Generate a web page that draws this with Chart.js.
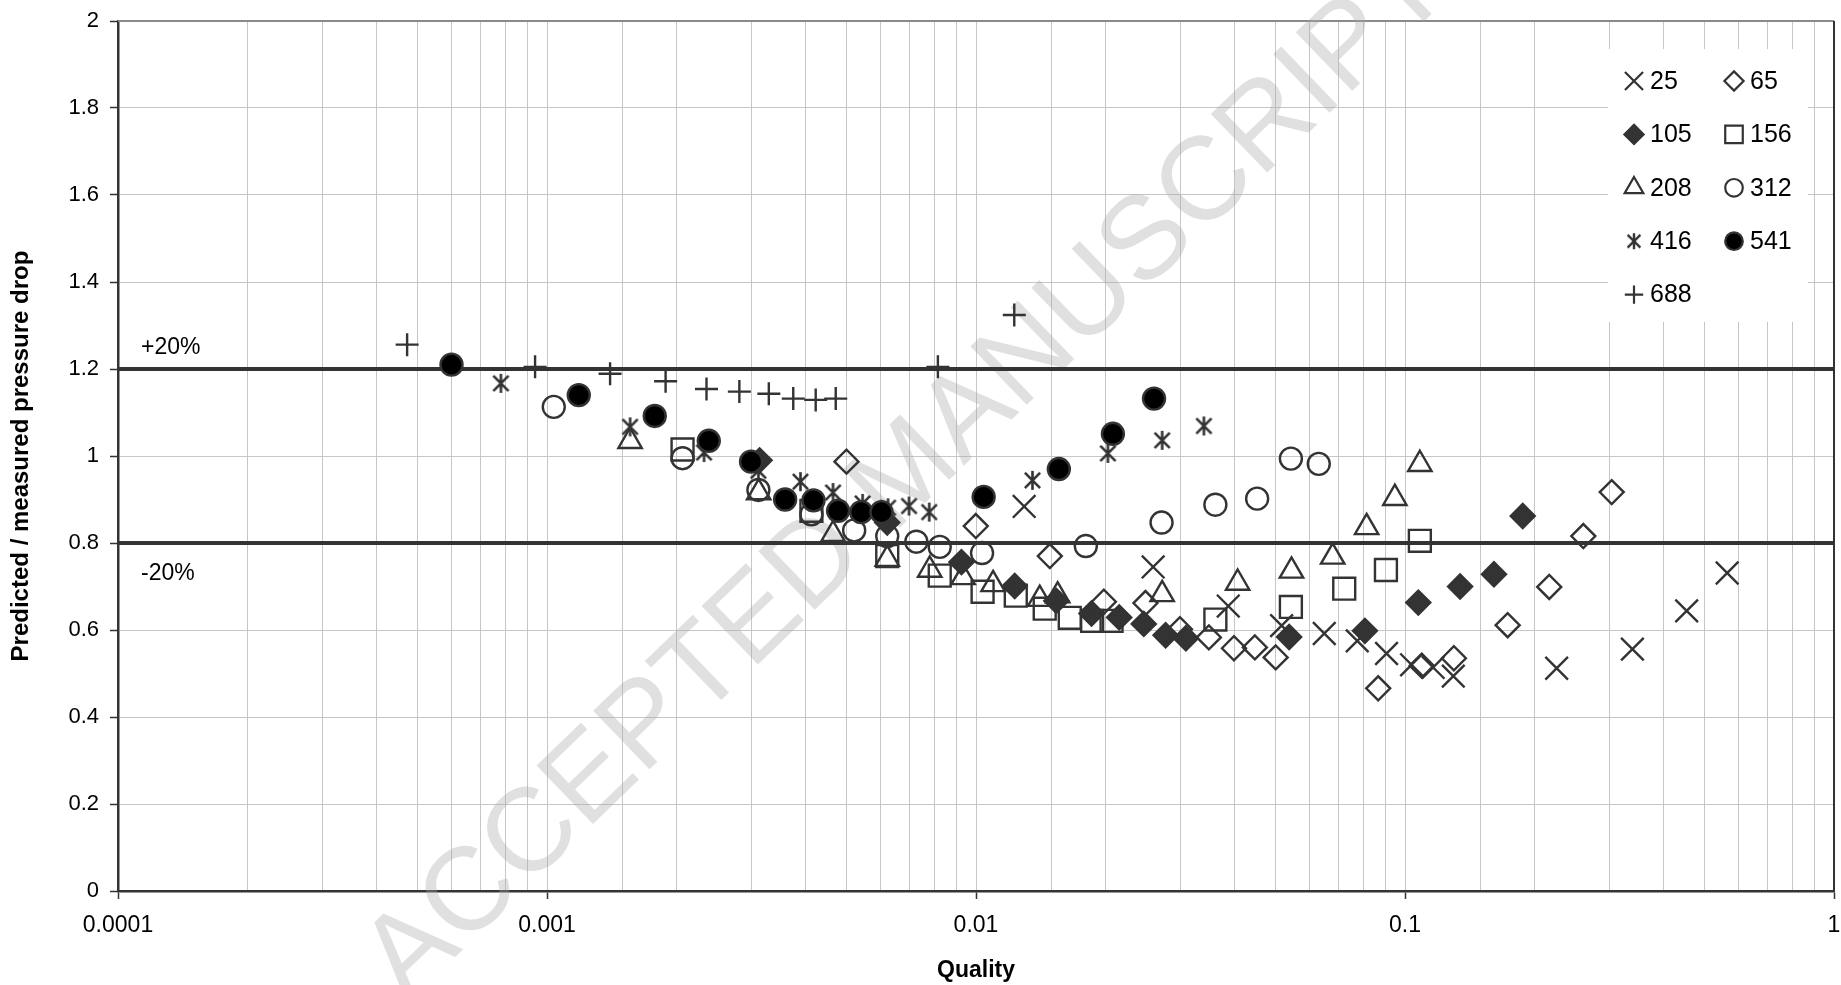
<!DOCTYPE html>
<html>
<head>
<meta charset="utf-8">
<title>Predicted / measured pressure drop vs quality</title>
<script src="https://cdn.jsdelivr.net/npm/chart.js@4.4.1/dist/chart.umd.min.js"></script>
<style>
    html, body { margin: 0; padding: 0; background: #fff; }
    #chart { display: block; }
</style>
</head>
<body>
<canvas id="chart" width="1841" height="985"></canvas>
<script>
// mass flux series (legend labels)
const seriesNames = ["25", "65", "105", "156", "208", "312", "416", "541", "688"];

const xTickLabels = ["0.0001", "0.001", "0.01", "0.1", "1"];
const yTickLabels = ["0", "0.2", "0.4", "0.6", "0.8", "1", "1.2", "1.4", "1.6", "1.8", "2"];

// +/-20% band
const bandX = [0.0001, 1];
const upperBand = [1.2, 1.2];
const lowerBand = [0.8, 0.8];

const quality25 = [0.01295, 0.02588, 0.03873, 0.05157, 0.06484, 0.07739, 0.09057, 0.1036, 0.1163, 0.1296, 0.2257, 0.3389, 0.4535, 0.5636];
const ratio25 = [0.884, 0.745, 0.655, 0.610, 0.592, 0.575, 0.546, 0.520, 0.514, 0.494, 0.512, 0.556, 0.644, 0.731];

const quality65 = [0.00499, 0.009988, 0.01486, 0.01986, 0.02483, 0.02988, 0.0349, 0.03993, 0.04467, 0.04995, 0.0866, 0.1094, 0.13, 0.1735, 0.2169, 0.2604, 0.3033];
const ratio65 = [0.987, 0.839, 0.770, 0.665, 0.662, 0.602, 0.583, 0.558, 0.560, 0.537, 0.466, 0.518, 0.535, 0.611, 0.699, 0.816, 0.917];

const quality105 = [0.00313, 0.00621, 0.00925, 0.01231, 0.01539, 0.01859, 0.02157, 0.02461, 0.02767, 0.03085, 0.0537, 0.08064, 0.1074, 0.1344, 0.1612, 0.1881];
const ratio105 = [0.990, 0.847, 0.756, 0.701, 0.667, 0.638, 0.629, 0.614, 0.588, 0.581, 0.584, 0.598, 0.663, 0.700, 0.728, 0.862];

const quality156 = [0.00207, 0.004134, 0.00621, 0.008231, 0.01036, 0.01238, 0.01446, 0.01654, 0.01865, 0.0207, 0.03614, 0.0542, 0.07217, 0.09027, 0.1083];
const ratio156 = [1.015, 0.874, 0.770, 0.725, 0.688, 0.679, 0.649, 0.628, 0.621, 0.621, 0.624, 0.653, 0.695, 0.738, 0.805];

const quality208 = [0.001562, 0.003115, 0.004643, 0.00621, 0.0078, 0.00933, 0.01096, 0.01408, 0.0155, 0.02716, 0.04073, 0.05438, 0.06783, 0.08139, 0.0947, 0.1083];
const ratio208 = [1.034, 0.916, 0.820, 0.763, 0.738, 0.721, 0.705, 0.671, 0.679, 0.682, 0.708, 0.736, 0.768, 0.836, 0.903, 0.981];

const quality312 = [0.001037, 0.00207, 0.00311, 0.004134, 0.0052, 0.00621, 0.00726, 0.008231, 0.01033, 0.01803, 0.02707, 0.03614, 0.04522, 0.0542, 0.06295];
const ratio312 = [1.113, 0.995, 0.922, 0.866, 0.829, 0.816, 0.803, 0.791, 0.777, 0.793, 0.847, 0.888, 0.902, 0.994, 0.982];

const quality416 = [0.0007808, 0.001562, 0.002323, 0.00311, 0.0038975, 0.004643, 0.00544, 0.006237, 0.00698, 0.00778, 0.01354, 0.0203, 0.02716, 0.03398];
const ratio416 = [1.167, 1.067, 1.008, 0.966, 0.941, 0.916, 0.891, 0.881, 0.885, 0.871, 0.944, 1.006, 1.036, 1.069];

const quality541 = [0.000599, 0.001186, 0.001783, 0.002383, 0.00299, 0.00359, 0.00418, 0.00477, 0.0054, 0.00602, 0.01042, 0.0156, 0.02085, 0.026];
const ratio541 = [1.210, 1.140, 1.092, 1.035, 0.987, 0.900, 0.898, 0.874, 0.871, 0.871, 0.906, 0.970, 1.051, 1.132];

const quality688 = [0.000472, 0.000938, 0.001403, 0.00189, 0.002354, 0.002808, 0.003289, 0.00375, 0.00423, 0.00471, 0.00815, 0.01228];
const ratio688 = [1.256, 1.205, 1.189, 1.172, 1.154, 1.148, 1.143, 1.132, 1.129, 1.132, 1.205, 1.324];

const INK = "#333333";
const FONT = 'Arial, "Liberation Sans", sans-serif';
const NONE = "rgba(0,0,0,0)";

Chart.defaults.font.family = FONT;
Chart.defaults.color = "#000";

function toPoints(xs, ys) {
    return xs.map((x, i) => ({x: x, y: ys[i]}));
}

function isDecade(v) {
    const e = Math.log10(v);
    return Math.abs(e - Math.round(e)) < 1e-6;
}

// excel style asterisk: X with a vertical bar
function makeAsterisk(size, lw) {
    const c = document.createElement("canvas");
    c.width = size;
    c.height = size;
    const g = c.getContext("2d");
    const m = size / 2;
    const a = size / 2 - 1;
    const d = a * 0.8;
    g.strokeStyle = INK;
    g.lineWidth = lw;
    g.beginPath();
    g.moveTo(m, m - a); g.lineTo(m, m + a);
    g.moveTo(m - d, m - d); g.lineTo(m + d, m + d);
    g.moveTo(m + d, m - d); g.lineTo(m - d, m + d);
    g.stroke();
    return c;
}

const asteriskBig = makeAsterisk(21, 2.6);
const asteriskSmall = makeAsterisk(18, 2.4);

// marker look per series, same order as seriesNames
const markers = [
    {style: "crossRot", radius: 16, fill: NONE},
    {style: "rectRot", radius: 12, fill: NONE},
    {style: "rectRot", radius: 12, fill: INK},
    {style: "rect", radius: 15.5, fill: NONE},
    {style: "triangle", radius: 13.5, fill: NONE},
    {style: "circle", radius: 11, fill: NONE},
    {style: asteriskBig, radius: 10, fill: NONE, legendStyle: asteriskSmall},
    {style: "circle", radius: 11, fill: "#000"},
    {style: "cross", radius: 11.5, fill: NONE}
];

const seriesData = [
    toPoints(quality25, ratio25),
    toPoints(quality65, ratio65),
    toPoints(quality105, ratio105),
    toPoints(quality156, ratio156),
    toPoints(quality208, ratio208),
    toPoints(quality312, ratio312),
    toPoints(quality416, ratio416),
    toPoints(quality541, ratio541),
    toPoints(quality688, ratio688)
];

const datasets = seriesNames.map((name, i) => ({
    label: name,
    data: seriesData[i],
    pointStyle: markers[i].style,
    pointRadius: markers[i].radius,
    pointHoverRadius: markers[i].radius,
    pointBackgroundColor: markers[i].fill,
    pointBorderColor: INK,
    pointBorderWidth: 2.4,
    order: seriesNames.length - i
}));

datasets.push({
    type: "line",
    label: "+20%",
    data: toPoints(bandX, upperBand),
    borderColor: INK,
    borderWidth: 4,
    pointRadius: 0,
    showLine: true,
    order: 50
});
datasets.push({
    type: "line",
    label: "-20%",
    data: toPoints(bandX, lowerBand),
    borderColor: INK,
    borderWidth: 4,
    pointRadius: 0,
    showLine: true,
    order: 50
});

function drawLegendMarker(ctx, m, x, y, r) {
    ctx.save();
    ctx.strokeStyle = INK;
    ctx.fillStyle = m.fill;
    ctx.lineWidth = 2.2;
    ctx.beginPath();
    const d = r * Math.SQRT1_2;
    if (typeof m.style !== "string") {
        const img = m.legendStyle || m.style;
        ctx.drawImage(img, x - img.width / 2, y - img.height / 2);
        ctx.restore();
        return;
    }
    if (m.style === "crossRot") {
        ctx.moveTo(x - d, y - d); ctx.lineTo(x + d, y + d);
        ctx.moveTo(x + d, y - d); ctx.lineTo(x - d, y + d);
    } else if (m.style === "cross") {
        ctx.moveTo(x - r, y); ctx.lineTo(x + r, y);
        ctx.moveTo(x, y - r); ctx.lineTo(x, y + r);
    } else if (m.style === "rectRot") {
        ctx.moveTo(x, y - r); ctx.lineTo(x + r, y); ctx.lineTo(x, y + r); ctx.lineTo(x - r, y); ctx.closePath();
    } else if (m.style === "rect") {
        ctx.rect(x - d, y - d, 2 * d, 2 * d);
    } else if (m.style === "triangle") {
        ctx.moveTo(x, y - r);
        ctx.lineTo(x + r * 0.866, y + r / 2);
        ctx.lineTo(x - r * 0.866, y + r / 2);
        ctx.closePath();
    } else if (m.style === "circle") {
        ctx.arc(x, y, r, 0, Math.PI * 2);
    }
    ctx.fill();
    ctx.stroke();
    ctx.restore();
}

const decorations = {
    id: "decorations",
    beforeDatasetsDraw(chart) {
        const ctx = chart.ctx;
        const area = chart.chartArea;
        ctx.save();
        // top and right frame
        ctx.strokeStyle = "#8a8a8a";
        ctx.lineWidth = 2;
        ctx.beginPath();
        ctx.moveTo(area.left, area.top);
        ctx.lineTo(area.right, area.top);
        ctx.stroke();
        ctx.strokeStyle = INK;
        ctx.beginPath();
        ctx.moveTo(area.right, area.top);
        ctx.lineTo(area.right, area.bottom);
        ctx.stroke();

        // watermark stamp
        ctx.translate(chart.width * 0.493, chart.height * 0.482);
        ctx.rotate(-44 * Math.PI / 180);
        ctx.font = "118px " + FONT;
        ctx.fillStyle = "rgba(170,170,170,0.36)";
        ctx.textAlign = "center";
        ctx.textBaseline = "middle";
        ctx.fillText("ACCEPTED MANUSCRIPT", 0, 0);
        ctx.restore();
    },
    afterDatasetsDraw(chart) {
        const ctx = chart.ctx;
        const area = chart.chartArea;
        const yScale = chart.scales.y;
        ctx.save();
        ctx.font = "23px " + FONT;
        ctx.fillStyle = "#000";
        ctx.textAlign = "left";
        ctx.textBaseline = "middle";
        ctx.fillText("+20%", area.left + 23, yScale.getPixelForValue(upperBand[0]) - 21);
        ctx.fillText("-20%", area.left + 23, yScale.getPixelForValue(lowerBand[0]) + 31);

        // legend box, two columns
        const boxLeft = area.right - 226;
        const boxRight = area.right - 26;
        ctx.fillStyle = "#fff";
        ctx.fillRect(boxLeft, area.top + 28, boxRight - boxLeft, 273);
        ctx.font = "25px " + FONT;
        seriesNames.forEach((name, i) => {
            const col = i % 2;
            const row = Math.floor(i / 2);
            const mx = boxLeft + 26 + col * 100;
            const my = area.top + 60 + row * 53.4;
            const m = markers[i];
            const r = typeof m.style === "string" ? m.radius * 0.8 : 0;
            drawLegendMarker(ctx, m, mx, my, r);
            ctx.fillStyle = "#000";
            ctx.fillText(name, mx + 16, my + 1);
        });
        ctx.restore();
    }
};

new Chart(document.getElementById("chart"), {
    type: "scatter",
    data: {datasets: datasets},
    plugins: [decorations],
    options: {
        responsive: false,
        animation: false,
        devicePixelRatio: 1,
        events: [],
        layout: {
            autoPadding: false,
            padding: {top: 21, right: 7, left: 0, bottom: 0}
        },
        plugins: {
            legend: {display: false},
            tooltip: {enabled: false}
        },
        scales: {
            x: {
                type: "logarithmic",
                min: 0.0001,
                max: 1,
                afterFit: (scale) => {
                    scale.height = 94;
                    scale.paddingLeft = 0;
                    scale.paddingRight = 0;
                },
                border: {color: INK, width: 2.5},
                grid: {
                    color: "#c6c6c6",
                    lineWidth: 1,
                    drawTicks: true,
                    tickLength: 8,
                    tickWidth: 1.5,
                    tickColor: (c) => (c.tick && isDecade(c.tick.value)) ? INK : NONE
                },
                ticks: {
                    autoSkip: false,
                    maxRotation: 0,
                    padding: 0,
                    font: {size: 23, lineHeight: 2.3},
                    color: "#000",
                    callback: (value) => isDecade(value) ? xTickLabels[Math.round(Math.log10(value)) + 4] : ""
                },
                title: {
                    display: true,
                    text: "Quality",
                    font: {size: 23, weight: "bold"},
                    color: "#000",
                    padding: {top: 0, bottom: 1}
                }
            },
            y: {
                min: 0,
                max: 2,
                afterFit: (scale) => {
                    scale.width = 118;
                    scale.paddingTop = 0;
                    scale.paddingBottom = 0;
                },
                border: {color: INK, width: 2.5},
                grid: {
                    color: "#c6c6c6",
                    lineWidth: 1,
                    drawTicks: true,
                    tickLength: 8,
                    tickWidth: 1.5,
                    tickColor: INK
                },
                ticks: {
                    stepSize: 0.2,
                    padding: 11,
                    font: {size: 22},
                    color: "#000",
                    callback: (value) => yTickLabels[Math.round(value * 5)]
                },
                title: {
                    display: true,
                    text: "Predicted / measured pressure drop",
                    font: {size: 24, weight: "bold"},
                    color: "#000",
                    padding: {top: 7, bottom: 0}
                }
            }
        }
    }
});
</script>
</body>
</html>
